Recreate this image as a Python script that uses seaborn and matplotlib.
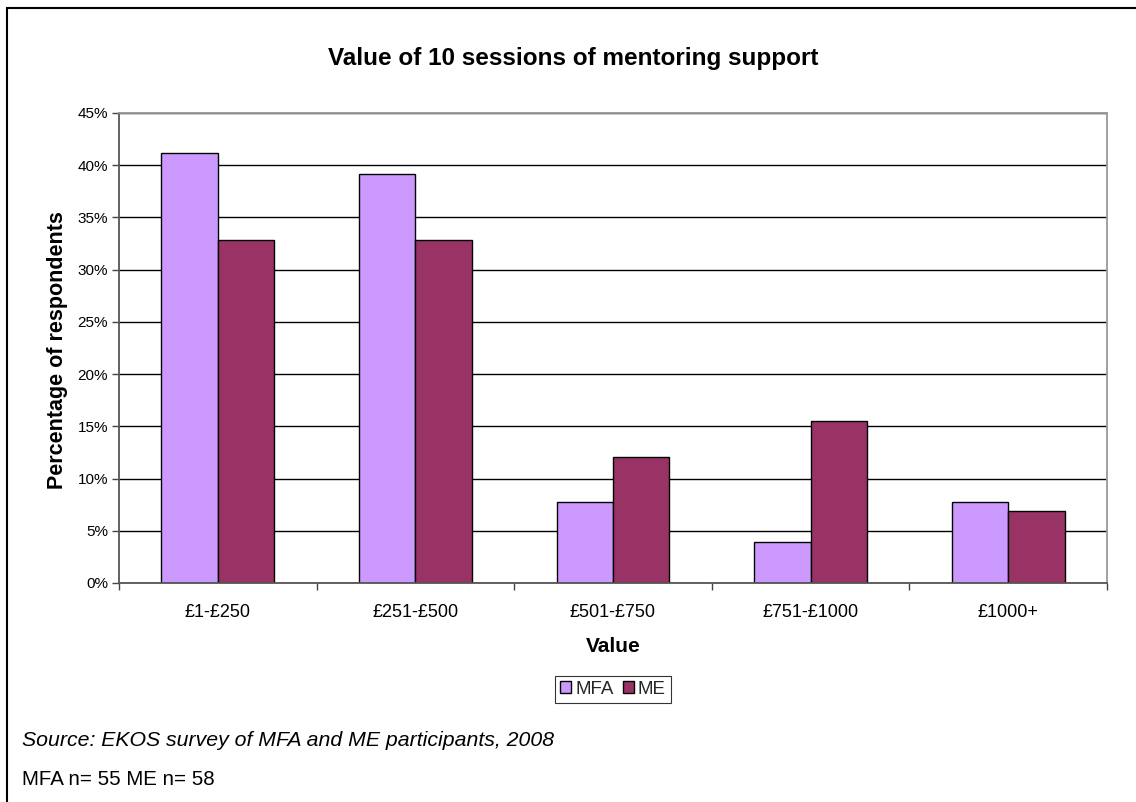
import matplotlib
matplotlib.use("Agg")
import matplotlib.pyplot as plt
import seaborn as sns
import pandas as pd
from matplotlib.patches import Rectangle

# Survey data: share of respondents by perceived value of 10 mentoring sessions
categories = ["£1-£250", "£251-£500", "£501-£750", "£751-£1000", "£1000+"]
mfa_pct = [41.2, 39.2, 7.8, 3.9, 7.8]
me_pct = [32.8, 32.8, 12.1, 15.5, 6.9]
series = ["MFA", "ME"]
series_colors = ["#CC99FF", "#993366"]
y_ticks = [0, 5, 10, 15, 20, 25, 30, 35, 40, 45]
y_tick_labels = [f"{v}%" for v in y_ticks]

df = pd.DataFrame({
    "Value": categories * 2,
    "pct": mfa_pct + me_pct,
    "group": [series[0]] * len(categories) + [series[1]] * len(categories),
})

sns.set_theme(style="white")
plt.rcParams["font.family"] = ["Liberation Sans", "DejaVu Sans"]

W, H = 1136, 802
fig = plt.figure(figsize=(W / 100, H / 100), dpi=100)
fig.patch.set_facecolor("white")

# plot area in pixel geometry
left, right, top, bottom = 119, 1107, 113, 583
ax = fig.add_axes([left / W, 1 - bottom / H, (right - left) / W, (bottom - top) / H])

sns.barplot(
    data=df, x="Value", y="pct", hue="group",
    order=categories, hue_order=series, palette=series_colors,
    saturation=1, edgecolor="black", linewidth=1.0,
    width=0.57, gap=0, ax=ax,
)

ax.set_xlim(-0.5, len(categories) - 0.5)
ax.set_ylim(0, 45)
ax.set_yticks(y_ticks)
ax.set_yticklabels(y_tick_labels)
ax.yaxis.grid(True, color="black", linewidth=1.0)
ax.xaxis.grid(False)
ax.set_axisbelow(True)

# category boundaries carry the x tick marks
ax.set_xticks([i - 0.5 for i in range(len(categories) + 1)], minor=True)
ax.tick_params(axis="x", which="major", bottom=True, length=0, pad=15, labelsize=13, labelcolor="black")
ax.tick_params(axis="x", which="minor", bottom=True, length=5, width=1, color="#444444", direction="out")
ax.tick_params(axis="y", left=True, length=5, width=1, color="#444444", direction="out", pad=3,
               labelsize=11, labelcolor="black")

for side in ("left", "bottom"):
    ax.spines[side].set_color("#555555")
    ax.spines[side].set_linewidth(1.3)
for side in ("top", "right"):
    ax.spines[side].set_color("#999999")
    ax.spines[side].set_linewidth(1.3)

ax.set_xlabel("Value", fontsize=15, fontweight="bold", color="black")
ax.xaxis.set_label_coords(0.5, (bottom - 646.5) / (bottom - top))
ax.xaxis.label.set_va("center")

ax.set_ylabel("Percentage of respondents", fontsize=15.5, fontweight="bold", color="black")
ax.yaxis.set_label_coords((57 - left) / (right - left), 0.495)
ax.yaxis.label.set_va("center")

handles, labels = ax.get_legend_handles_labels()
leg = ax.legend(
    handles, labels, loc="center",
    bbox_to_anchor=(0.5, (bottom - 689.5) / (bottom - top)),
    ncol=2, frameon=True, fancybox=False, edgecolor="black",
    fontsize=13.5, handlelength=0.6, handleheight=0.6, handletextpad=0.2,
    columnspacing=0.5, borderpad=0.28, borderaxespad=0,
)
leg.get_frame().set_linewidth(0.8)

fig.text(573 / W, 1 - 59 / H, "Value of 10 sessions of mentoring support",
         ha="center", va="center", fontsize=17.5, fontweight="bold", color="black")
fig.text(22 / W, 1 - 746 / H, "Source: EKOS survey of MFA and ME participants, 2008",
         ha="left", va="baseline", fontsize=15.3, style="italic", color="black")
fig.text(22 / W, 1 - 785 / H, "MFA n= 55 ME n= 58",
         ha="left", va="baseline", fontsize=14.8, color="black")

# outer chart border (continues past the right and bottom edges)
frame = Rectangle((6.5 / W, -0.5), 2.0, 0.5 + 1 - 7.5 / H, transform=fig.transFigure,
                  fill=False, edgecolor="black", linewidth=1.5)
fig.add_artist(frame)

fig.savefig("out.png", dpi=100)
